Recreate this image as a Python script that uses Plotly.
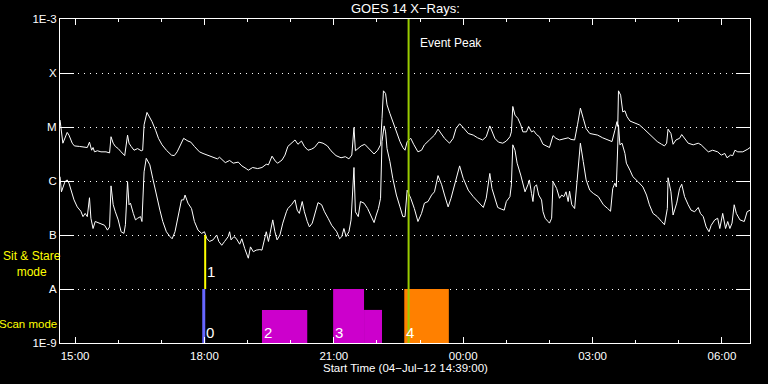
import plotly.graph_objects as go
import pandas as pd
import numpy as np

START = pd.Timestamp("2012-07-04 14:39:00")
END = pd.Timestamp("2012-07-05 06:39:00")

# ---- GOES 14 long channel (1-8 A): minutes after start, log10 flux (W/m^2)
long_minutes = [0, 4, 10, 12.5, 17, 20, 27, 34, 38, 41, 44, 46, 48, 52, 57, 64, 69, 71, 74, 77, 81, 85, 90, 94, 96, 99, 103, 108, 113, 115,
                117, 121, 123, 128, 133, 137, 142, 148, 155, 159, 163, 168, 172, 178, 182, 187, 194, 199, 206, 213, 219, 222, 227, 230, 236,
                241, 248, 253, 259, 262, 268, 275, 281, 287, 290, 295, 300, 303, 309, 313,
                317, 322, 327, 331, 336, 340, 345, 350, 354, 360, 366, 372, 377, 384, 391, 397, 402, 406, 409, 411, 415, 419, 424, 428,
                437, 442, 446, 448, 450, 453, 455, 459, 463, 468, 473, 477, 480, 483, 488, 492, 498, 503, 507, 514, 521, 526, 530, 535,
                542, 547, 551, 556, 561, 568, 575, 581, 588, 593, 598, 601, 605, 610, 616, 621, 626, 628, 630, 633, 637,
                641, 644, 649, 652, 656, 659, 663, 667, 672, 677, 681, 686, 690, 695, 702, 707, 711, 716, 720, 724, 728, 732, 737, 743,
                748, 755, 762, 768, 772, 775, 776, 777, 780, 783, 786, 789, 793, 800, 806, 812, 819, 825, 831, 837, 841, 844, 846, 850,
                853, 857, 862, 865, 869, 874, 881, 888, 892, 897, 902, 908, 915, 920, 925, 928, 933, 936, 939, 943, 950, 957, 960]
long_log_flux = [-4.87, -5.30, -5.10, -5.15, -5.30, -5.35, -5.36, -5.38, -5.38, -5.28, -5.43, -5.38, -5.46, -5.44, -5.46, -5.46,
                 -5.48, -5.18, -5.30, -5.36, -5.40, -5.46, -5.53, -5.15, -5.30, -5.36, -5.43, -5.40, -5.44, -5.43,
                 -4.96, -4.73, -4.78, -4.90, -5.06, -5.21, -5.33, -5.43, -5.52, -5.53, -5.46, -5.33, -5.21, -5.26, -5.28, -5.36, -5.46,
                 -5.49, -5.53, -5.57, -5.59, -5.56, -5.63, -5.66, -5.62, -5.67, -5.65, -5.72, -5.77, -5.80, -5.75, -5.77, -5.75, -5.69,
                 -5.70, -5.54, -5.64, -5.67, -5.61, -5.52,
                 -5.36, -5.30, -5.24, -5.32, -5.26, -5.36, -5.43, -5.41, -5.38, -5.28, -5.30, -5.35, -5.44, -5.53, -5.57, -5.55, -5.59,
                 -5.52, -5.01, -5.44, -5.40, -5.35, -5.32, -5.38, -5.50, -5.43, -5.33, -4.84, -4.33, -4.38, -4.59, -4.75, -4.90, -5.09,
                 -5.27, -5.38, -5.43, -5.27, -5.21, -5.32, -5.46, -5.43, -5.33, -5.24, -5.15, -5.04, -5.12, -5.21, -5.30, -5.21, -5.03,
                 -4.94, -5.01, -5.12, -5.15, -5.20, -5.24, -5.18, -4.98, -5.07, -5.21, -5.28, -5.30, -5.26, -5.18, -5.09, -4.62, -4.78,
                 -4.84,
                 -4.96, -5.09, -5.09, -4.99, -5.09, -5.07, -5.14, -5.18, -5.32, -5.35, -5.38, -5.16, -5.21, -5.24, -5.21, -5.20, -5.23,
                 -5.24, -4.96, -4.65, -4.84, -5.03, -5.12, -5.13, -5.15, -5.20, -5.24, -5.27, -5.06, -4.90, -4.99, -4.33, -4.41, -4.72,
                 -4.70, -4.81, -4.89, -4.93, -4.96, -5.03, -5.12, -5.21, -5.27, -5.32, -5.35, -5.30, -5.04, -5.12, -5.32, -5.24, -5.21,
                 -5.14, -5.21, -5.30, -5.33, -5.30, -5.33, -5.40, -5.46, -5.43, -5.46, -5.52, -5.49, -5.57, -5.52, -5.53, -5.43, -5.46,
                 -5.46, -5.41, -5.38]

# ---- GOES 14 short channel (0.5-4 A)
short_minutes = [0, 2, 7, 10, 12.5, 16, 19.5, 24, 29, 32, 35, 38, 41, 43, 46, 49, 55, 62, 66, 69, 71, 74, 77, 81, 85, 89, 91, 94,
                 96, 98, 102, 105, 108, 112, 114, 117, 120, 125, 129, 134, 139, 143, 148, 153, 156, 160, 164, 169, 172, 174, 178,
                 183, 187, 192, 197, 201, 204, 208, 213, 218, 221, 225, 229, 234, 236, 238, 242, 245, 250, 253, 257, 262, 265, 269,
                 273, 278, 281, 285, 287, 290, 294, 296, 299, 302, 306, 310, 315,
                 317, 322, 327, 330, 333, 337, 340, 344, 347, 351, 354, 359, 364, 368, 373, 378, 385, 389, 392, 395, 398, 402, 405,
                 409, 411, 415, 418, 423, 428, 433, 437, 440, 443, 446, 448, 451, 453, 455, 459, 463, 468, 473, 477, 480, 483, 488,
                 493, 498, 503, 507, 512, 517, 521, 526, 531, 535, 540, 544, 549, 554, 556, 561, 568, 575, 582, 589, 593, 598, 601,
                 605, 609, 614, 618, 621, 626, 628, 630, 633, 636,
                 641, 644, 647, 651, 653, 656, 658, 660, 663, 666, 670, 672, 675, 679, 681, 684, 686, 691, 695, 698, 701, 704, 707,
                 709, 712, 716, 720, 724, 728, 732, 737, 742, 749, 756, 762, 766, 769, 772, 774, 775, 777, 779, 782, 786, 788, 793,
                 797, 804, 811, 816, 820, 825, 831, 837, 841, 845, 846, 850, 853, 858, 862, 865, 869, 874, 878, 883, 888, 891, 895,
                 899, 903, 906, 911, 915, 918, 922, 926, 929, 932, 935, 938, 941, 946, 952, 956, 960]
short_log_flux = [-5.92, -6.20, -6.01, -5.98, -6.04, -6.20, -6.35, -6.48, -6.56, -6.66, -6.60, -6.66, -6.31, -6.69, -6.88, -6.75,
                  -6.78, -6.82, -6.91, -6.85, -6.09, -6.44, -6.57, -6.72, -6.94, -6.97, -6.81, -6.01, -6.44, -6.41, -6.60, -6.72,
                  -6.69, -6.66, -6.75, -5.83, -5.58, -5.70, -5.95, -6.26, -6.54, -6.75, -6.94, -7.03, -7.07, -6.94, -6.66, -6.35,
                  -6.35, -6.26, -6.41, -6.51, -6.75, -6.91, -6.97, -6.94, -7.06, -7.12, -7.09, -7.00, -7.12, -7.19, -7.12, -7.03,
                  -6.94, -7.09, -7.03, -7.06, -7.17, -7.07, -7.25, -7.43, -7.22, -7.31, -7.28, -7.27, -7.28, -7.03, -6.94, -7.12,
                  -6.82, -6.72, -6.94, -7.09, -7.00, -6.78, -6.57,
                  -6.51, -6.44, -6.35, -6.54, -6.60, -6.38, -6.57, -6.75, -6.85, -6.78, -6.63, -6.40, -6.44, -6.57, -6.69, -6.82,
                  -6.94, -7.07, -7.03, -6.88, -7.03, -6.94, -6.72, -5.75, -6.57, -6.66, -6.38, -6.41, -6.51, -6.66, -6.77, -6.63,
                  -6.51, -6.32, -5.27, -4.98, -5.09, -5.40, -5.64, -5.95, -6.26, -6.48, -6.66, -6.66, -6.17, -6.32, -6.51, -6.75,
                  -6.60, -6.41, -6.38, -6.26, -6.20, -5.90, -6.07, -6.26, -6.48, -6.32, -6.07, -5.80, -5.72, -5.95, -6.17, -6.29,
                  -6.40, -6.49, -6.32, -5.86, -6.14, -6.32, -6.49, -6.52, -6.54, -6.38, -6.29, -6.07, -5.33, -5.43, -5.67,
                  -5.89, -6.07, -6.20, -6.07, -5.98, -6.23, -6.38, -6.11, -6.07, -6.26, -6.35, -6.57, -6.69, -6.75, -6.78, -6.69,
                  -6.01, -6.14, -6.32, -6.26, -6.29, -6.20, -6.38, -6.19, -6.44, -6.51, -5.95, -5.30, -5.64, -5.98, -6.17, -6.23,
                  -6.29, -6.44, -6.51, -6.56, -6.14, -6.04, -6.11, -5.77, -4.96, -5.33, -5.30, -5.49, -5.67, -5.80, -5.92, -6.01,
                  -6.11, -6.26, -6.44, -6.60, -6.66, -6.75, -6.81, -6.51, -5.94, -6.20, -6.63, -6.41, -6.14, -6.06, -6.29, -6.44,
                  -6.54, -6.57, -6.49, -6.60, -6.66, -6.85, -6.94, -6.82, -6.72, -6.69, -6.88, -6.60, -6.88, -6.75, -6.88, -6.78,
                  -6.44, -6.60, -6.72, -6.75, -6.57, -6.54]

# ---- y-axis classes
y_tick_values = [1e-9, 1e-8, 1e-7, 1e-6, 1e-5, 1e-4, 1e-3]
y_tick_labels = ["1E-9", "A", "B", "C", "M", "X", "1E-3"]

# ---- observation events
event0_minute = 200      # scan mode start marker
event1_minute = 202      # sit & stare marker
block_start_minutes = [281, 380, 423, 479]
block_end_minutes = [344, 423, 448, 541]
block_top_flux = [4.1e-9, 1e-8, 4.1e-9, 1e-8]
block_kind = ["magenta", "magenta", "magenta", "orange"]
event_label_text = ["0", "1", "2", "3", "4"]
event_label_minutes = [200, 202, 281, 380, 479]
event_label_log_flux = [-8.80, -7.67, -8.80, -8.80, -8.80]
event_peak_minute = 485

COLORS = {"magenta": "#CC00CC", "orange": "#FF8000"}

def t(m):
    return START + pd.to_timedelta(np.asarray(m, dtype=float), unit="m")

fig = go.Figure()

for s, e, top, kind in zip(block_start_minutes, block_end_minutes, block_top_flux, block_kind):
    xs = t([s, s, e, e, s])
    fig.add_trace(go.Scatter(x=xs, y=[1e-9, top, top, 1e-9, 1e-9], fill="toself",
                             fillcolor=COLORS[kind], line=dict(width=0), mode="lines",
                             hoverinfo="skip"))

fig.add_trace(go.Scatter(x=t(long_minutes), y=10 ** np.array(long_log_flux), mode="lines",
                         line=dict(color="white", width=1)))
fig.add_trace(go.Scatter(x=t(short_minutes), y=10 ** np.array(short_log_flux), mode="lines",
                         line=dict(color="white", width=1)))

fig.add_trace(go.Scatter(x=t([event0_minute, event0_minute]), y=[1e-9, 1e-8], mode="lines",
                         line=dict(color="#6666FF", width=3)))
fig.add_trace(go.Scatter(x=t([event1_minute, event1_minute]), y=[1e-8, 1e-7], mode="lines",
                         line=dict(color="#FFFF00", width=2)))
fig.add_trace(go.Scatter(x=t([event_peak_minute, event_peak_minute]), y=[1e-9, 1e-3], mode="lines",
                         line=dict(color="#99CC00", width=2), cliponaxis=False))

FONT = "Liberation Sans"
ann = []
for txt, m, lf in zip(event_label_text, event_label_minutes, event_label_log_flux):
    ann.append(dict(x=t([m])[0], y=lf, xref="x", yref="y", text=txt, showarrow=False,
                    xanchor="left", yanchor="middle", xshift=0,
                    font=dict(family=FONT, size=15, color="white")))
ann.append(dict(x=t([event_peak_minute])[0], y=0.926, xref="x", yref="paper", text="Event Peak",
                showarrow=False, xanchor="left", yanchor="middle", xshift=9,
                font=dict(family=FONT, size=12, color="white")))
ann.append(dict(x=0.5, y=1.031, xref="paper", yref="paper", text="GOES 14 X\u2212Rays:",
                showarrow=False, xanchor="center", yanchor="middle",
                font=dict(family=FONT, size=13, color="white")))
ann.append(dict(x=0.5, y=-0.077, xref="paper", yref="paper", text="Start Time (04\u2212Jul\u221212 14:39:00)",
                showarrow=False, xanchor="center", yanchor="middle",
                font=dict(family=FONT, size=11.5, color="white")))
ann.append(dict(x=-0.04, y=-7.537, xref="paper", yref="y", text="Sit & Stare<br>mode",
                showarrow=False, xanchor="center", yanchor="middle",
                font=dict(family=FONT, size=12, color="#FFFF00")))
ann.append(dict(x=-0.047, y=-8.648, xref="paper", yref="y", text="Scan mode",
                showarrow=False, xanchor="center", yanchor="middle",
                font=dict(family=FONT, size=11.5, color="#FFFF00")))

fig.update_layout(
    width=768, height=384,
    margin=dict(l=60, r=18, t=19, b=41),
    paper_bgcolor="black", plot_bgcolor="black",
    showlegend=False,
    annotations=ann,
    font=dict(family=FONT, size=11, color="white"),
)
fig.update_xaxes(
    type="date", range=[START, END],
    tickformat="%H:%M", tick0="2012-07-04 00:00", dtick=3 * 3600 * 1000,
    ticks="inside", ticklen=6, tickcolor="white", tickwidth=1,
    minor=dict(dtick=3600 * 1000, tick0="2012-07-04 00:00", ticks="inside", ticklen=3,
               tickcolor="white", showgrid=False),
    showline=True, linecolor="white", linewidth=1, mirror="ticks",
    showgrid=False, zeroline=False,
    ticklabelstandoff=2,
    tickfont=dict(family=FONT, size=11.5, color="white"),
)
fig.update_yaxes(
    type="log", range=[-9, -3],
    tickvals=y_tick_values, ticktext=y_tick_labels,
    ticks="inside", ticklen=14, tickcolor="white", tickwidth=1,
    showline=True, linecolor="white", linewidth=1, mirror="ticks",
    showgrid=True, gridcolor="white", gridwidth=1, griddash="1px,5px",
    zeroline=False,
    tickfont=dict(family=FONT, size=11.5, color="white"),
)

fig.write_html("out.html")
